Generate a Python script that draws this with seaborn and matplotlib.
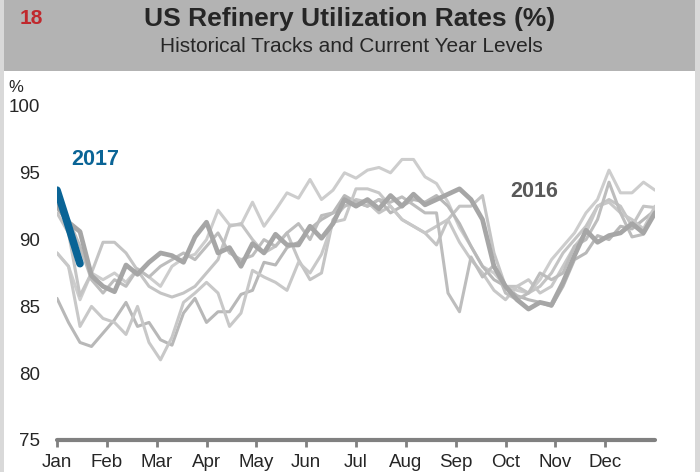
import numpy as np
import pandas as pd
import seaborn as sns
import matplotlib.pyplot as plt
from matplotlib.patches import Rectangle

months = ["Jan", "Feb", "Mar", "Apr", "May", "Jun", "Jul", "Aug", "Sep", "Oct", "Nov", "Dec"]
y_ticks = [75, 80, 85, 90, 95, 100]

# weekly utilization rates (%)
track_a = [89.0, 88.0, 85.5, 87.5, 87.0, 87.5, 86.8, 87.8, 87.2, 86.5, 88.0, 88.6, 88.9, 90.0,
           92.2, 91.1, 91.1, 92.8, 91.0, 92.2, 93.5, 93.1, 94.5, 93.0, 93.7, 95.0, 94.6, 95.2,
           95.4, 95.0, 96.0, 96.0, 94.7, 94.2, 92.8, 90.9, 89.5, 88.0, 87.5, 86.5, 86.2, 86.0,
           87.0, 88.5, 89.5, 90.5, 92.0, 93.0, 95.2, 93.5, 93.5, 94.3, 93.7]
track_b = [92.0, 90.5, 85.8, 87.5, 89.8, 89.8, 89.0, 87.7, 86.5, 86.0, 85.7, 86.0, 86.5, 87.5,
           88.5, 91.0, 91.2, 90.0, 89.0, 89.5, 90.5, 88.5, 87.0, 87.5, 91.5, 92.5, 93.0, 92.8,
           92.0, 92.5, 91.5, 91.0, 90.5, 89.6, 91.5, 92.5, 92.5, 93.3, 89.0, 86.5, 86.5, 86.0,
           86.5, 87.5, 89.0, 90.0, 91.0, 92.5, 93.0, 92.5, 91.0, 92.5, 92.4]
track_c = [85.6, 83.8, 82.3, 82.0, 83.0, 84.0, 85.3, 83.5, 83.8, 82.5, 82.1, 84.5, 85.6, 83.8,
           84.6, 84.6, 85.9, 86.2, 88.3, 88.1, 89.4, 89.8, 90.8, 91.5, 92.0, 93.3, 92.8, 92.5,
           93.0, 92.0, 92.5, 93.0, 92.8, 93.3, 92.5, 91.2, 89.5, 88.0, 87.0, 86.5, 85.8, 85.5,
           85.3, 85.0, 86.5, 88.5, 89.0, 90.3, 90.0, 91.0, 90.8, 91.5, 92.2]
track_d = [89.0, 88.0, 83.5, 85.0, 84.1, 83.8, 82.9, 85.0, 82.3, 81.0, 82.7, 85.3, 86.0, 86.8,
           86.0, 83.5, 84.5, 87.7, 87.2, 86.8, 86.2, 88.3, 87.5, 88.9, 91.3, 91.5, 93.8, 93.8,
           93.5, 92.5, 91.5, 91.0, 90.5, 91.0, 91.5, 89.8, 88.5, 87.5, 86.2, 85.5, 86.5, 87.0,
           86.0, 86.5, 88.0, 89.5, 90.5, 92.5, 92.8, 92.0, 91.5, 90.8, 92.5]
track_e = [92.8, 91.5, 89.5, 87.0, 86.0, 87.0, 86.5, 87.8, 87.2, 88.0, 88.5, 89.0, 88.5, 89.5,
           90.5, 89.0, 88.5, 88.8, 90.0, 89.5, 90.5, 91.2, 90.0, 91.8, 92.0, 92.5, 92.8, 92.5,
           93.0, 92.8, 93.2, 92.6, 92.0, 92.0, 86.0, 84.6, 88.7, 87.2, 88.1, 86.0, 85.5, 86.0,
           87.5, 87.0, 87.5, 89.5, 90.0, 91.5, 94.3, 92.0, 90.2, 90.4]
track_2016 = [92.5, 91.3, 90.6, 87.3, 86.5, 86.1, 88.1, 87.4, 88.3, 89.0, 88.8, 88.3, 90.2, 91.3,
              89.0, 89.4, 88.0, 89.7, 89.0, 90.4, 89.6, 89.6, 91.0, 90.1, 91.2, 93.0, 92.5, 93.0,
              92.3, 93.3, 92.5, 93.4, 92.6, 93.0, 93.4, 93.8, 93.0, 91.5, 88.0, 86.5, 85.5, 84.8,
              85.3, 85.1, 86.8, 88.8, 90.7, 89.8, 90.3, 90.5, 91.2, 90.5, 92.0]
track_2017 = [93.7, 91.0, 88.2]

tracks = {"a": track_a, "b": track_b, "c": track_c, "d": track_d, "e": track_e}
track_colors = {"a": "#cdcdcd", "b": "#c4c4c4", "c": "#b8b8b8", "d": "#c8c8c8", "e": "#bdbdbd"}

frames = [pd.DataFrame({"week": np.arange(len(v)), "rate": v, "year": k}) for k, v in tracks.items()]
hist = pd.concat(frames, ignore_index=True)
df16 = pd.DataFrame({"week": np.arange(len(track_2016)), "rate": track_2016})
df17 = pd.DataFrame({"week": np.arange(len(track_2017)), "rate": track_2017})

sns.set_style("white")
plt.rcParams["font.family"] = ["Liberation Sans Narrow", "Liberation Sans", "DejaVu Sans"]
wide = ["Liberation Sans", "DejaVu Sans"]

fig = plt.figure(figsize=(7, 4.72), dpi=100)
W, H = 700, 472

# header band and side borders
fig.patches.append(Rectangle((0, 1 - 71 / H), 1, 71 / H, transform=fig.transFigure,
                             facecolor="#b3b3b3", edgecolor="none", zorder=0))
fig.patches.append(Rectangle((0, 0), 4 / W, 1, transform=fig.transFigure,
                             facecolor="#d9d9d9", edgecolor="none", zorder=0))
fig.patches.append(Rectangle((1 - 5 / W, 0), 5 / W, 1, transform=fig.transFigure,
                             facecolor="#d9d9d9", edgecolor="none", zorder=0))
fig.text(31 / W, 1 - 18 / H, "18", color="#c0282d", fontsize=15, fontweight="bold",
         ha="center", va="center")
fig.text(350 / W, 1 - 19 / H, "US Refinery Utilization Rates (%)", fontsize=19,
         fontweight="bold", ha="center", va="center")
fig.text(351 / W, 1 - 46 / H, "Historical Tracks and Current Year Levels", fontsize=15,
         ha="center", va="center")
fig.text(16 / W, 1 - 88 / H, "%", fontsize=12, ha="center", va="center")

ax = fig.add_axes([57 / W, 32 / H, 598 / W, 334 / H])
ax.set_facecolor("none")

sns.lineplot(data=hist, x="week", y="rate", hue="year", palette=track_colors,
             linewidth=2.2, legend=False, ax=ax, sort=False)
sns.lineplot(data=df16, x="week", y="rate", color="#a6a6a6", linewidth=3.4,
             ax=ax, sort=False)
sns.lineplot(data=df17, x="week", y="rate", color="#0a6496", linewidth=5.5,
             ax=ax, sort=False, solid_capstyle="round")

ax.text(3.3, 96.0, "2017", color="#0a6496", fontsize=15.5, fontweight="bold",
        ha="center", va="center", family=wide)
ax.text(41.5, 93.6, "2016", color="#595959", fontsize=15.5, fontweight="bold",
        ha="center", va="center", family=wide)

ax.set_xlim(0, 52)
ax.set_ylim(75, 100)
ax.set_xticks([k * 52 / 12 for k in range(12)])
ax.set_xticklabels(months, fontsize=13.5)
ax.set_yticks(y_ticks)
ax.set_yticklabels([str(t) for t in y_ticks], fontsize=13.5)
ax.set_xlabel("")
ax.set_ylabel("")
ax.tick_params(axis="x", bottom=True, length=5, width=2, color="#808080", pad=5,
               direction="out")
ax.tick_params(axis="y", left=False, length=0, pad=12)
for side in ["top", "right", "left"]:
    ax.spines[side].set_visible(False)
ax.spines["bottom"].set_color("#808080")
ax.spines["bottom"].set_linewidth(3)
ax.spines["bottom"].set_capstyle("round")

fig.savefig("out.png", dpi=100)
